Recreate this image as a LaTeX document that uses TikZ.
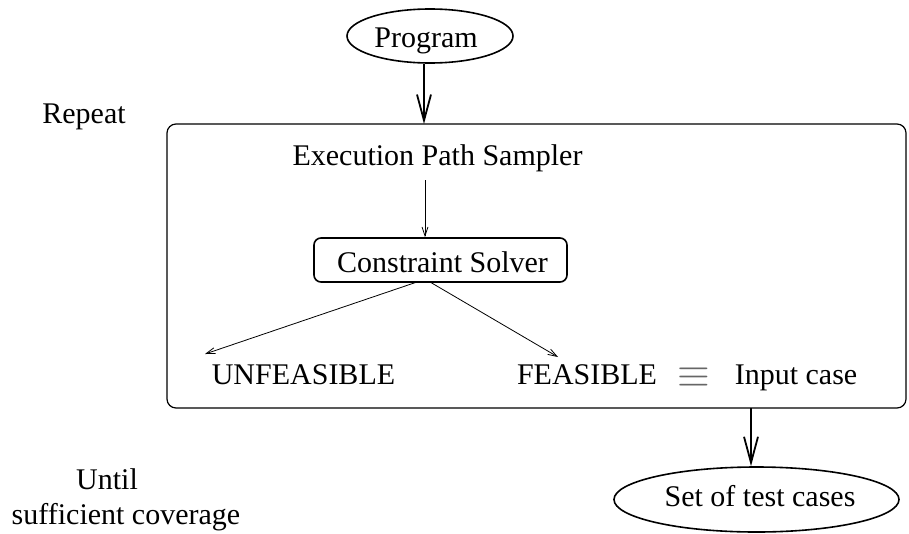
\documentclass[tikz,border=0pt]{standalone}
\usepackage{fontspec}
\setmainfont{Liberation Serif}
\usetikzlibrary{arrows.meta,shapes.geometric}
\begin{document}
\begin{tikzpicture}[x=1pt,y=-1pt,
  txt/.style={font=\fontsize{30}{36}\selectfont, inner sep=0pt, anchor=base},
  oval/.style={draw, ellipse, line width=1.6pt, inner sep=0pt},
  bigarrow/.style={line width=1.8pt, -{Straight Barb[length=26pt,width=14pt,line width=1.8pt]}},
  smallarrow/.style={line width=0.8pt, -{Straight Barb[length=9pt,width=6pt,line width=0.8pt]}}]
\useasboundingbox (0,0) rectangle (909,533);

% outer loop frame
\draw[line width=1.2pt, rounded corners=9pt] (167,124) rectangle (906,408);

% input program
\node[oval, minimum width=166pt, minimum height=54pt] (prog) at (430,36) {};
\node[txt] (progtxt) at (426,47) {Program};
\coordinate (boxtop) at (424,124);
\draw[bigarrow] (prog.south -| boxtop) -- (boxtop);

\node[txt] (repeat) at (84,123) {Repeat};
\node[txt] (eps) at (437.5,165) {Execution Path Sampler};

% solver box
\node[draw, line width=1.6pt, rounded corners=7pt, minimum width=253pt, minimum height=44pt, inner sep=0pt] (cs) at (440.5,260) {};
\node[txt] (cstxt) at (442.5,272) {Constraint Solver};
\coordinate (csa) at (425,180);
\draw[smallarrow] (csa) -- (cs.north -| csa);

% outcomes
\node[txt] (unf) at (303.5,384) {UNFEASIBLE};
\node[txt] (feas) at (587,384) {FEASIBLE};
\node[inner sep=0pt, anchor=base, text=black!60] (eq) at (694,387.5) {\scalebox{4.2}{$\equiv$}};
\node[txt] (inp) at (796,384) {Input case};

\coordinate (csl) at (417,282);
\coordinate (csr) at (430,282);
\coordinate (unft) at (205,354);
\coordinate (feast) at (558,357);
\draw[smallarrow] (csl) -- (unft);
\draw[smallarrow] (csr) -- (feast);

% collected results
\node[oval, minimum width=285pt, minimum height=65pt] (set) at (756.5,499.5) {};
\node[txt] (settxt) at (760,506) {Set of test cases};
\coordinate (outa) at (751,408);
\draw[bigarrow] (outa) -- (set.north -| outa);

\node[txt] (until) at (107,489) {Until};
\node[txt] (cov) at (126,524) {sufficient coverage};
\end{tikzpicture}
\end{document}
